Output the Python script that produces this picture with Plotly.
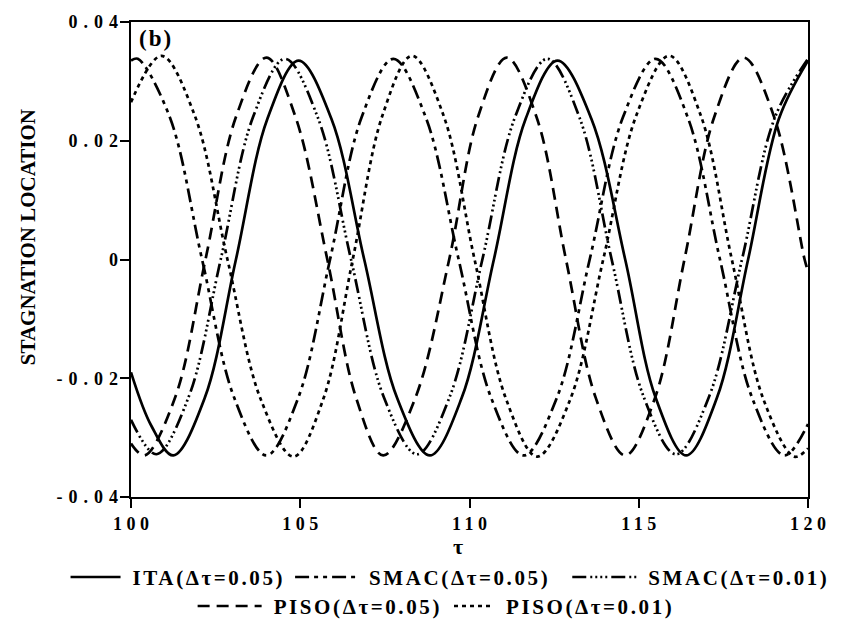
import plotly.graph_objects as go

# ---- data (tau, stagnation location) ----
ita_tau = [100.0, 100.6, 101.25, 102.18, 103.1, 104.03, 104.95, 105.92, 106.89, 107.86, 108.83,
           109.77, 110.72, 111.66, 112.6, 113.6, 114.6, 115.5, 116.4, 117.31, 118.23, 119.14, 120.0]
ita_val = [-0.019, -0.028, -0.033, -0.0233, 0.0, 0.0237, 0.0335, 0.0237, 0.0, -0.0233, -0.033,
           -0.0233, 0.0, 0.0237, 0.0335, 0.0237, 0.0, -0.0233, -0.033, -0.0233, 0.0, 0.0237, 0.0335]

smac05_tau = [100.0, 100.2, 101.15, 102.1, 103.05, 104.0, 104.94, 105.88, 106.81, 107.75, 108.71,
              109.68, 110.64, 111.6, 112.58, 113.55, 114.53, 115.5, 116.45, 117.4, 118.35, 119.3, 120.0]
smac05_val = [0.0335, 0.0338, 0.0239, 0.0, -0.0233, -0.033, -0.0233, 0.0, 0.0239, 0.0338, 0.0239,
              0.0, -0.0233, -0.033, -0.0233, 0.0, 0.0239, 0.0338, 0.0239, 0.0, -0.0233, -0.033, -0.0277]

smac01_tau = [100.0, 100.75, 101.7, 102.65, 103.6, 104.55, 105.52, 106.5, 107.47, 108.45, 109.41,
              110.38, 111.34, 112.3, 113.25, 114.2, 115.15, 116.1, 117.07, 118.05, 119.02, 120.0]
smac01_val = [-0.027, -0.0328, -0.0232, 0.0, 0.0239, 0.0338, 0.0239, 0.0, -0.0232, -0.0328, -0.0232,
              0.0, 0.0239, 0.0338, 0.0239, 0.0, -0.0232, -0.0328, -0.0232, 0.0, 0.0239, 0.0338]

piso05_tau = [100.0, 100.4, 101.3, 102.2, 103.1, 104.0, 104.86, 105.8, 106.65, 107.45, 108.4,
              109.4, 110.25, 111.1, 111.98, 112.85, 113.73, 114.6, 115.48, 116.35, 117.23, 118.1,
              119.0, 119.9, 120.0]
piso05_val = [-0.031, -0.033, -0.0233, 0.0, 0.024, 0.034, 0.024, 0.0, -0.0233, -0.033, -0.0233,
              0.0, 0.024, 0.034, 0.024, 0.0, -0.0233, -0.033, -0.0233, 0.0, 0.024, 0.034,
              0.024, 0.0, -0.002]

piso01_tau = [100.0, 100.9, 101.88, 102.85, 103.83, 104.8, 105.68, 106.55, 107.43, 108.3, 109.23,
              110.15, 111.08, 112.0, 112.98, 113.95, 114.93, 115.9, 116.83, 117.75, 118.68, 119.6, 120.0]
piso01_val = [0.0265, 0.0343, 0.0243, 0.0, -0.0235, -0.0332, -0.0235, 0.0, 0.0243, 0.0343, 0.0243,
              0.0, -0.0235, -0.0332, -0.0235, 0.0, 0.0243, 0.0343, 0.0243, 0.0, -0.0235, -0.0332, -0.0318]

x_ticks = [100, 105, 110, 115, 120]
x_ticklabels = ["100", "105", "110", "115", "120"]
y_ticks = [-0.04, -0.02, 0.0, 0.02, 0.04]
y_ticklabels = ["-0.04", "-0.02", "0", "0.02", "0.04"]

SERIF = "Liberation Serif, Times New Roman, serif"

fig = go.Figure()

series = [
    ("ITA(Δτ=0.05)", ita_tau, ita_val, "solid"),
    ("SMAC(Δτ=0.05)", smac05_tau, smac05_val, "14px,5px,4px,5px,4px,5px"),
    ("SMAC(Δτ=0.01)", smac01_tau, smac01_val, "14px,4px,2px,3px,2px,3px,2px,3px,2px,4px"),
    ("PISO(Δτ=0.05)", piso05_tau, piso05_val, "12px,7px"),
    ("PISO(Δτ=0.01)", piso01_tau, piso01_val, "4px,4px"),
]
for name, xs, ys, dash in series:
    fig.add_trace(go.Scatter(
        x=xs, y=ys, mode="lines", name=name,
        line=dict(color="black", width=2.7, dash=dash, shape="spline", smoothing=1.0),
    ))

axis_common = dict(
    showline=True, linecolor="black", linewidth=2, mirror=True,
    ticks="outside", ticklen=9, tickwidth=2, tickcolor="black",
    showgrid=False, zeroline=False,
    tickfont=dict(family=SERIF, size=18, color="black", weight="bold"),
)

legend_font = dict(family=SERIF, size=21, color="black", weight="bold")

fig.update_layout(
    width=846, height=628,
    margin=dict(l=131, r=38, t=18, b=131),
    paper_bgcolor="white", plot_bgcolor="white",
    xaxis=dict(range=[100, 120], tickvals=x_ticks, ticktext=x_ticklabels, **axis_common),
    yaxis=dict(range=[-0.04, 0.04], tickvals=y_ticks, ticktext=y_ticklabels, **axis_common),
    legend=dict(orientation="h", x=0.5, xanchor="center", y=-0.167, yanchor="middle",
                font=legend_font, bgcolor="rgba(0,0,0,0)", itemwidth=40, tracegroupgap=0),
    annotations=[
        dict(text="STAGNATION LOCATION", xref="paper", yref="paper",
             x=(28 - 131) / 677, y=(497 - 235) / 479, textangle=-90, showarrow=False,
             xanchor="center", yanchor="middle",
             font=dict(family=SERIF, size=21, color="black", weight="bold")),
        dict(text="τ", xref="paper", yref="paper", x=(458 - 131) / 677, y=(497 - 547) / 479,
             showarrow=False, xanchor="center", yanchor="middle",
             font=dict(family=SERIF, size=22, color="black", weight="bold")),
        dict(text="(b)", xref="paper", yref="paper", x=(156 - 131) / 677, y=(497 - 35) / 479,
             showarrow=False, xanchor="center", yanchor="middle",
             font=dict(family=SERIF, size=23, color="black", weight="bold")),
    ],
    showlegend=True,
)

# letter-spacing (tracking) of the printed labels, and legend laid out in two centred rows.
post_js = r"""
var gd = document.getElementById('{plot_id}');
var LSX = 4.5, LSY = 6, YLABEL_RIGHT = 118;
var layoutRows = [
  {names: ['ITA(Δτ=0.05)', 'SMAC(Δτ=0.05)', 'SMAC(Δτ=0.01)'], cx: 450, cy: 577, syms: [50, 62, 64], gaps: [10, 22]},
  {names: ['PISO(Δτ=0.05)', 'PISO(Δτ=0.01)'], cx: 436, cy: 606, syms: [64, 40], gaps: [12]}
];
function fixLabels(){
  gd.querySelectorAll('g.xtick text').forEach(function(t){
    t.removeAttribute('dx');
    t.style.letterSpacing = '0px';
    var b0 = t.getBoundingClientRect(), c0 = (b0.left + b0.right) / 2;
    t.style.letterSpacing = LSX + 'px';
    var b1 = t.getBoundingClientRect(), c1 = (b1.left + b1.right) / 2;
    t.setAttribute('dx', (c0 - c1) + LSX / 2);
  });
  gd.querySelectorAll('g.ytick text').forEach(function(t){
    t.removeAttribute('dx');
    t.style.letterSpacing = LSY + 'px';
    var b1 = t.getBoundingClientRect();
    t.setAttribute('dx', (YLABEL_RIGHT - b1.right) + LSY);
  });
  gd.querySelectorAll('text.annotation-text').forEach(function(t){
    if (t.textContent === '(b)') { t.style.letterSpacing = '2px'; }
  });
}
function findTrace(name){
  var all = gd.querySelectorAll('g.traces');
  for (var i = 0; i < all.length; i++) {
    var t = all[i].querySelector('text.legendtext');
    if (t && t.textContent === name) return all[i];
  }
  return null;
}
function fixLegend(){
  layoutRows.forEach(function(r){
    var trs = [], widths = [];
    r.names.forEach(function(nm, i){
      var tr = findTrace(nm);
      if (!tr) return;
      var sb = tr.closest('g.scrollbox');
      if (sb) {
        sb.setAttribute('transform', 'translate(0,0)');
        sb.removeAttribute('clip-path');
        var L = sb.parentNode;
        if (L) {
          L.setAttribute('transform', 'translate(0,0)');
          var bg = L.querySelector('rect.bg'); if (bg) bg.style.display = 'none';
        }
      }
      var sym = r.syms[i] || 50;
      var txt = tr.querySelector('text.legendtext');
      txt.style.letterSpacing = '2.6px';
      txt.setAttribute('x', sym + 12);
      var p = tr.querySelector('g.legendlines path');
      if (p) p.setAttribute('d', 'M0,0h' + sym);
      trs.push(tr);
      widths.push(sym + 12 + txt.getBBox().width);
    });
    var total = widths.reduce(function(a, b){ return a + b; }, 0);
    for (var k = 0; k < widths.length - 1; k++) total += (r.gaps[k] || 12);
    var x = r.cx - total / 2;
    trs.forEach(function(tr, i){
      tr.setAttribute('transform', 'translate(' + x + ',' + r.cy + ')');
      x += widths[i] + (r.gaps[i] || 12);
    });
  });
}
function fixAll(){ try { fixLabels(); } catch (e) {} try { fixLegend(); } catch (e) {} }
fixAll();
[30, 100, 250, 500, 1000].forEach(function(ms){ setTimeout(fixAll, ms); });
"""

fig.write_html("out.html", post_script=post_js)
